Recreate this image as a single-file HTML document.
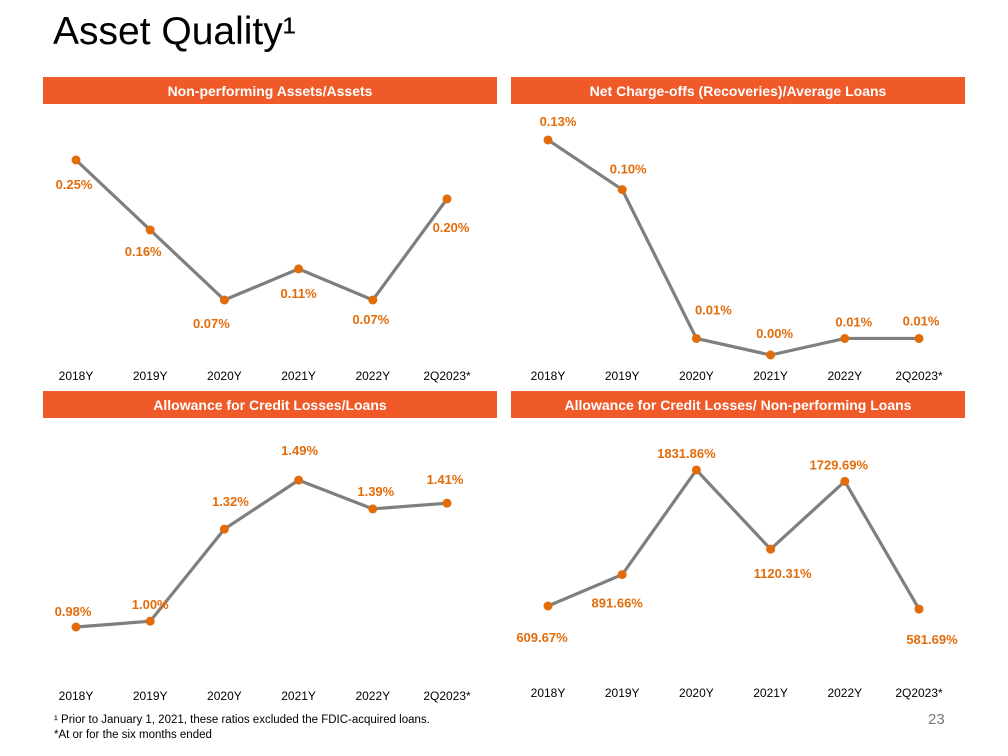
<!DOCTYPE html>
<html><head><meta charset="utf-8"><style>
body{margin:0;background:#fff;font-family:"Liberation Sans",sans-serif}
#wrap{position:relative;width:1008px;height:756px;overflow:hidden}
.title{position:absolute;left:53px;top:10px;font-size:39px;color:#000}
.foot{position:absolute;left:54px;font-size:11.5px;color:#000}
.pg{position:absolute;left:928px;top:711px;font-size:15px;color:#777}
</style></head><body>
<div id="wrap">
<div class="title">Asset Quality¹</div>
<svg id="svg" width="1008" height="756" style="position:absolute;left:0;top:0"></svg>
<div class="foot" style="top:714px">¹ Prior to January 1, 2021, these ratios excluded the FDIC-acquired loans.</div>
<div class="foot" style="top:729px">*At or for the six months ended</div>
<div class="pg">23</div>
</div>
<script>
const categories=["2018Y","2019Y","2020Y","2021Y","2022Y","2Q2023*"];
const npaValues=[0.25,0.16,0.07,0.11,0.07,0.20];
const ncoValues=[0.13,0.10,0.01,0.00,0.01,0.01];
const allowLoansValues=[0.98,1.00,1.32,1.49,1.39,1.41];
const allowNplValues=[609.67,891.66,1831.86,1120.31,1729.69,581.69];
const titles=["Non-performing Assets/Assets","Net Charge-offs (Recoveries)/Average Loans","Allowance for Credit Losses/Loans","Allowance for Credit Losses/ Non-performing Loans"];
const NS="http://www.w3.org/2000/svg";const svg=document.getElementById('svg');
function mk(t,a){const e=document.createElementNS(NS,t);for(const k in a)e.setAttribute(k,a[k]);svg.appendChild(e);return e;}
const panels=[
 {vals:npaValues,dec:2,bx:43,by:77,xs:76,y0:300,v0:0.07,k:777.8,xl:375,
  off:[[-2,24],[-7,21],[-13,23],[0,24],[-2,19],[4,28]]},
 {vals:ncoValues,dec:2,bx:511,by:77,xs:548,y0:355,v0:0,k:1654,xl:375,
  off:[[10,-19],[6,-21],[17,-29],[4,-22],[9,-17],[2,-18]]},
 {vals:allowLoansValues,dec:2,bx:43,by:391,xs:76,y0:627,v0:0.98,k:288,xl:695,
  off:[[-3,-16],[0,-17],[6,-28],[1,-30],[3,-18],[-2,-24]]},
 {vals:allowNplValues,dec:2,bx:511,by:391,xs:548,y0:606,v0:609.67,k:0.1113,xl:692,
  off:[[-6,31],[-5,28],[-10,-17],[12,24],[-6,-17],[13,30]]}
];
panels.forEach((p,pi)=>{
 const b=mk('rect',{x:p.bx,y:p.by,width:454,height:27,fill:'#F05A28'});
 
 
 const t=mk('text',{x:p.bx+227,y:p.by+19,'text-anchor':'middle','font-size':14,'font-weight':'bold',fill:'#fff'});
 t.textContent=titles[pi];
 
 
 const xAt=i=>p.xs+i*74.2;
 const yAt=v=>p.y0-(v-p.v0)*p.k;
 const pts=p.vals.map((v,i)=>xAt(i)+','+yAt(v)).join(' ');
 const l=mk('polyline',{points:pts,fill:'none',stroke:'#7F7F7F','stroke-width':3.2});
 
 
 p.vals.forEach((v,i)=>{
  const c=mk('circle',{cx:xAt(i),cy:yAt(v),r:4.5,fill:'#E36C0A'});
  
  
  const lb=mk('text',{x:xAt(i)+p.off[i][0],y:yAt(v)+p.off[i][1]+5,'text-anchor':'middle','font-size':13,'font-weight':'bold',fill:'#E36C0A'});
  lb.textContent=v.toFixed(p.dec)+'%';
  
  
 });
 categories.forEach((c,i)=>{
  const x=mk('text',{x:xAt(i),y:p.xl+5,'text-anchor':'middle','font-size':12,fill:'#000'});
  x.textContent=c;
  
  
 });
});
</script>
</body></html>
